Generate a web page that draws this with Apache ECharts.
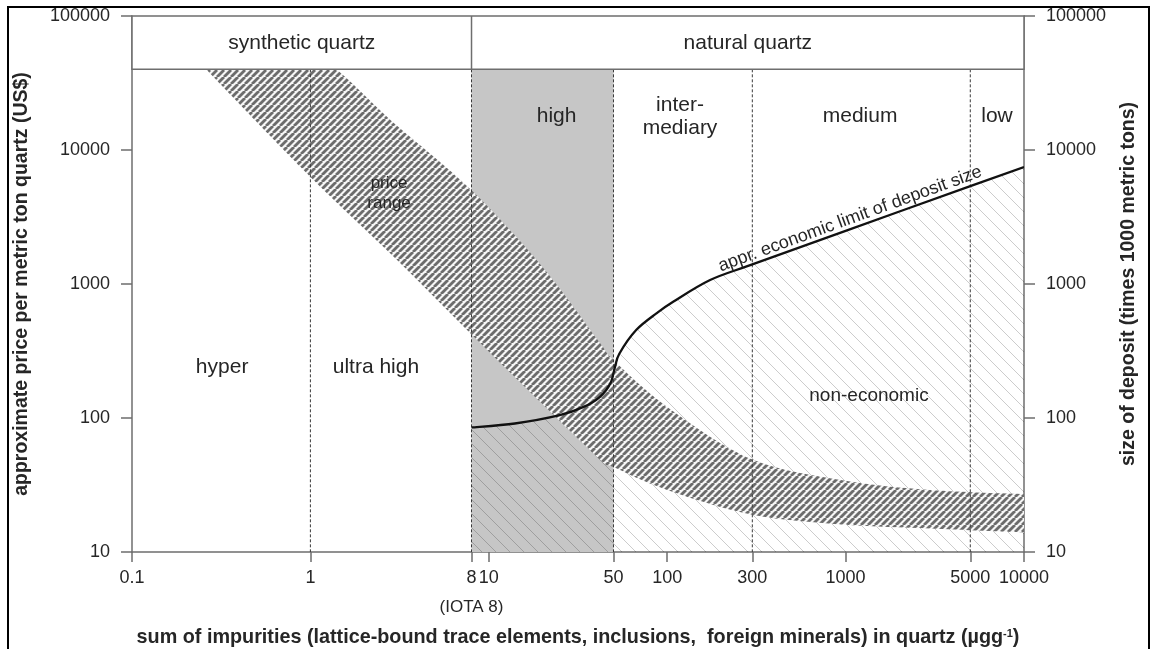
<!DOCTYPE html>
<html>
<head>
<meta charset="utf-8">
<script src="https://cdn.jsdelivr.net/npm/echarts@6/dist/echarts.min.js"></script>
<style>
  html, body { margin: 0; padding: 0; background: #fff; }
  #main { width: 1152px; height: 649px; }
</style>
</head>
<body>
<div id="main"></div>
<script>
// tick values of the two log axes
const xTickValues = [0.1, 1, 8, 10, 50, 100, 300, 1000, 5000, 10000];
const yTickValues = [10, 100, 1000, 10000, 100000];

// purity classes: dashed borders, the grey "high" class, header level
const classBorders = [1, 8, 50, 300, 5000];
const highClass = [8, 50];
const headerLevel = 40000;
const headerSplit = 8;

// price range band (US$ per ton), lower and upper edge
const bandX    = [0.26, 1, 3, 8, 20, 42, 50, 100, 300, 1000, 3000, 10000];
const bandLow  = [40000, 6300, 1550, 420, 127, 49, 43, 29, 19, 16, 15, 14];
const bandHigh = [100000, 55000, 15500, 5000, 1340, 363, 271, 121, 49, 34, 29, 27];

// appr. economic limit of deposit size (1000 t)
const limitX = [8, 14, 25, 34, 42, 48, 51, 54, 67, 87, 108, 174, 300, 1000, 5000, 10000];
const limitY = [85, 91, 105, 121, 144, 181, 241, 303, 453, 603, 736, 1070, 1400, 2490, 5380, 7470];

// header and class names
const headerNames = ['synthetic quartz', 'natural quartz'];
const classNames = ['hyper', 'ultra high', 'high', 'inter-\nmediary', 'medium', 'low'];
const classNameX = [0.32, 2.33, 24, 118, 1205, 7060];
const classNameY = [240, 240, 18000, 17600, 18000, 18000];

const L = v => Math.log10(v);
const fmt = v => String(Number(Math.pow(10, v).toPrecision(6)));
const FONT = '"Liberation Sans", Arial, sans-serif';
const AXIS_COLOR = '#6e6e6e';
const TEXT_COLOR = '#262626';

function stripes(w, h, lineW, color, bg, dir) {
  const c = document.createElement('canvas');
  c.width = w; c.height = h;
  const ctx = c.getContext('2d');
  if (bg) { ctx.fillStyle = bg; ctx.fillRect(0, 0, w, h); }
  ctx.strokeStyle = color;
  ctx.lineWidth = lineW;
  for (let k = -1; k <= 1; k++) {
    ctx.beginPath();
    if (dir === '/') { ctx.moveTo(k * w, h); ctx.lineTo(k * w + w, 0); }
    else { ctx.moveTo(k * w, 0); ctx.lineTo(k * w + w, h); }
    ctx.stroke();
  }
  return { image: c, repeat: 'repeat' };
}
const bandPattern = stripes(7, 7, 2.8, '#6c6c6c', '#f6f6f6', '/');
const hatchPattern = stripes(14, 14, 1, 'rgba(0,0,0,0.2)', null, '\\');

// catmull-rom curve segments through pixel points (drawing only)
function curveThrough(p) {
  let d = '';
  for (let i = 0; i < p.length - 1; i++) {
    const p0 = p[Math.max(i - 1, 0)], p1 = p[i], p2 = p[i + 1], p3 = p[Math.min(i + 2, p.length - 1)];
    const c1 = [p1[0] + (p2[0] - p0[0]) / 6, p1[1] + (p2[1] - p0[1]) / 6];
    const c2 = [p2[0] - (p3[0] - p1[0]) / 6, p2[1] - (p3[1] - p1[1]) / 6];
    d += ' C' + c1[0] + ',' + c1[1] + ' ' + c2[0] + ',' + c2[1] + ' ' + p2[0] + ',' + p2[1];
  }
  return d;
}

function limitPixels(api) {
  return limitX.map((x, i) => api.coord([L(x), L(limitY[i])]));
}

const yAxisBase = {
  type: 'value', min: 1, max: 5, interval: 1,
  axisLine: { show: true, onZero: false, lineStyle: { color: AXIS_COLOR, width: 1.5 } },
  axisTick: { show: true, length: 11, lineStyle: { color: AXIS_COLOR, width: 1.5 } },
  axisLabel: { formatter: fmt, margin: 22, fontSize: 18, color: TEXT_COLOR, fontFamily: FONT },
  splitLine: { show: false },
  nameLocation: 'middle', nameRotate: 90,
  nameTextStyle: { fontSize: 19.5, fontWeight: 'bold', color: TEXT_COLOR, fontFamily: FONT }
};

const option = {
  animation: false,
  backgroundColor: '#fff',
  textStyle: { fontFamily: FONT },
  grid: { left: 132, right: 128, top: 16, bottom: 97, outerBoundsMode: 'none' },
  graphic: [{
    type: 'rect', silent: true,
    shape: { x: 8, y: 7, width: 1141, height: 700 },
    style: { fill: null, stroke: '#000', lineWidth: 2 }
  }],
  xAxis: {
    type: 'value', min: -1, max: 4,
    axisLine: { show: true, onZero: false, lineStyle: { color: AXIS_COLOR, width: 1.5 } },
    axisTick: { show: true, length: 10, customValues: xTickValues.map(L), lineStyle: { color: AXIS_COLOR, width: 1.5 } },
    axisLabel: {
      customValues: xTickValues.map(L), margin: 15,
      formatter: v => {
        const s = fmt(v);
        return s === '8' ? '{v|8}\n{i|(IOTA 8)}' : '{v|' + s + '}';
      },
      rich: {
        v: { fontSize: 18, lineHeight: 22, color: TEXT_COLOR, fontFamily: FONT },
        i: { fontSize: 17, lineHeight: 36, color: TEXT_COLOR, fontFamily: FONT }
      }
    },
    splitLine: { show: false },
    name: '{t|sum of impurities (lattice-bound trace elements, inclusions,  foreign minerals) in quartz (µgg}{s|-1}{t|)}',
    nameLocation: 'middle', nameGap: 76,
    nameTextStyle: {
      rich: {
        t: { fontSize: 19.8, fontWeight: 'bold', color: TEXT_COLOR, fontFamily: FONT },
        s: { fontSize: 11, fontWeight: 'bold', color: TEXT_COLOR, fontFamily: FONT, verticalAlign: 'top' }
      }
    }
  },
  yAxis: [
    Object.assign({}, yAxisBase, { position: 'left', nameGap: 100, name: 'approximate price per metric ton quartz (US$)' }),
    Object.assign({}, yAxisBase, { position: 'right', nameGap: 95, name: 'size of deposit (times 1000 metric tons)' })
  ],
  series: [
    { // grey "high" class
      type: 'custom', z: 1, silent: true, clip: true,
      data: [[L(highClass[0]), L(highClass[1])]],
      renderItem: (params, api) => {
        const a = api.coord([api.value(0), L(headerLevel)]);
        const b = api.coord([api.value(1), 1]);
        return { type: 'rect', shape: { x: a[0], y: a[1], width: b[0] - a[0], height: b[1] - a[1] }, style: { fill: '#c6c6c6' } };
      }
    },
    { // non-economic hatch below the limit curve
      type: 'custom', z: 2, silent: true, clip: true,
      data: [[0, 1]],
      renderItem: (params, api) => {
        const p = limitPixels(api);
        const base = api.coord([0, 1])[1];
        const d = 'M' + p[0][0] + ',' + p[0][1] + curveThrough(p) +
          ' L' + p[p.length - 1][0] + ',' + base + ' L' + p[0][0] + ',' + base + ' Z';
        return { type: 'path', shape: { pathData: d }, style: { fill: hatchPattern, stroke: null } };
      }
    },
    { // price range band
      type: 'custom', z: 3, silent: true, clip: true,
      data: [[0, 1]],
      renderItem: (params, api) => {
        const up = bandX.map((x, i) => api.coord([L(x), L(bandHigh[i])]));
        const lo = bandX.map((x, i) => api.coord([L(x), L(bandLow[i])])).reverse();
        const d = 'M' + up[0][0] + ',' + up[0][1] + curveThrough(up) +
          ' L' + lo[0][0] + ',' + lo[0][1] + curveThrough(lo) + ' Z';
        return { type: 'path', shape: { pathData: d }, style: { fill: bandPattern, stroke: null } };
      }
    },
    { // dashed class borders
      type: 'custom', z: 4, silent: true,
      data: classBorders.map(v => [L(v), 1]),
      renderItem: (params, api) => {
        const a = api.coord([api.value(0), L(headerLevel)]);
        const b = api.coord([api.value(0), 1]);
        return { type: 'line', shape: { x1: a[0], y1: a[1], x2: b[0], y2: b[1] },
          style: { stroke: '#3a3a3a', lineWidth: 1, lineDash: [3, 2] } };
      }
    },
    { // economic limit curve
      type: 'custom', z: 5, silent: true, clip: true,
      data: [[0, 1]],
      renderItem: (params, api) => {
        const p = limitPixels(api);
        const d = 'M' + p[0][0] + ',' + p[0][1] + curveThrough(p);
        return { type: 'path', shape: { pathData: d }, style: { fill: null, stroke: '#111', lineWidth: 2.3 } };
      }
    },
    { // header box
      type: 'custom', z: 6, silent: true,
      data: [[L(0.1), L(headerSplit), L(10000)]],
      renderItem: (params, api) => {
        const a = api.coord([api.value(0), 5]);
        const m = api.coord([api.value(1), L(headerLevel)]);
        const b = api.coord([api.value(2), L(headerLevel)]);
        const cy = (a[1] + b[1]) / 2 + 1;
        const txt = (t, x) => ({ type: 'text', x: x, y: cy,
          style: { text: t, fill: TEXT_COLOR, font: '21px ' + FONT, align: 'center', verticalAlign: 'middle' } });
        return { type: 'group', children: [
          { type: 'rect', shape: { x: a[0], y: a[1], width: b[0] - a[0], height: b[1] - a[1] },
            style: { fill: '#fff', stroke: AXIS_COLOR, lineWidth: 1.5 } },
          { type: 'line', shape: { x1: m[0], y1: a[1], x2: m[0], y2: m[1] }, style: { stroke: AXIS_COLOR, lineWidth: 1.5 } },
          txt(headerNames[0], (a[0] + m[0]) / 2),
          txt(headerNames[1], (m[0] + b[0]) / 2)
        ] };
      }
    },
    { // class names
      type: 'custom', z: 7, silent: true,
      data: classNames.map((n, i) => [L(classNameX[i]), L(classNameY[i]), i]),
      renderItem: (params, api) => {
        const p = api.coord([api.value(0), api.value(1)]);
        return { type: 'text', x: p[0], y: p[1],
          style: { text: classNames[api.value(2)], fill: TEXT_COLOR, font: '21px ' + FONT,
            align: 'center', verticalAlign: 'middle', lineHeight: 23 } };
      }
    },
    { // free annotations
      type: 'custom', z: 7, silent: true,
      data: [[L(2.76), L(4780), 0], [L(1352), L(146), 1], [L(1060), L(3055), 2]],
      renderItem: (params, api) => {
        const p = api.coord([api.value(0), api.value(1)]);
        const k = api.value(2);
        const text = ['price\nrange', 'non-economic', 'appr. economic limit of deposit size'][k];
        const size = [17, 19, 18][k];
        return { type: 'text', x: p[0], y: p[1], rotation: k === 2 ? 20 * Math.PI / 180 : 0,
          style: { text: text, fill: TEXT_COLOR, font: size + 'px ' + FONT,
            align: 'center', verticalAlign: 'middle', lineHeight: 20 } };
      }
    }
  ]
};

const chart = echarts.init(document.getElementById('main'));
chart.setOption(option);
</script>
</body>
</html>
